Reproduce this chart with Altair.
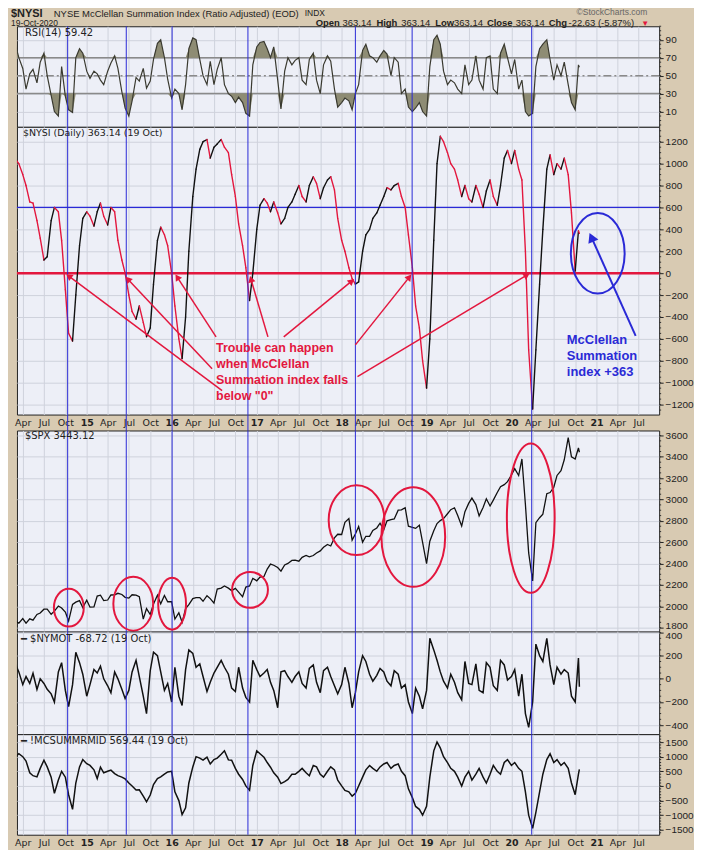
import altair as alt
import pandas as pd
import numpy as np

# ---------------- data (semi-monthly readings + last bar) ----------------
dates = list(pd.date_range("2014-03-01", "2020-10-15", freq="SMS").strftime("%Y-%m-%d")) + ["2020-10-19"]

rsi = [84, 70, 58, 35, 52, 57, 42, 65, 75, 50,
       28, 10, 5, 60, 27, 12, 9, 70, 80, 75,
       55, 47, 55, 52, 45, 40, 55, 64, 72, 58,
       32, 14, 5, 22, 48, 44, 58, 36, 44, 68,
       86, 90, 70, 46, 25, 35, 30, 12, 40, 80,
       92, 90, 68, 50, 40, 66, 40, 57, 70, 40,
       30, 27, 20, 26, 20, 8, 5, 62, 82, 87,
       88, 80, 70, 82, 45, 13, 55, 70, 62, 67,
       70, 45, 40, 68, 75, 45, 30, 62, 72, 66,
       35, 15, 20, 25, 22, 12, 30, 40, 78, 85,
       72, 70, 65, 72, 78, 74, 50, 70, 65, 30,
       35, 15, 10, 14, 20, 10, 5, 60, 90, 95,
       85, 55, 40, 45, 42, 35, 30, 62, 40, 45,
       72, 45, 35, 70, 72, 35, 30, 75, 85, 70,
       52, 68, 35, 45, 10, 5, 8, 60, 80, 85,
       90, 68, 45, 62, 50, 65, 40, 20, 12, 62,
       59.42]

nysi = [1040, 1000, 900, 800, 650, 640, 480, 320, 120, 150,
        480, 600, 560, 300, -150, -550, -620, -200, 250, 500,
        560, 520, 430, 560, 640, 520, 440, 600, 560, 300,
        120, 0, -200, -350, -420, -300, -450, -580, -500, -100,
        300, 420, 350, 250, 0, -300, -600, -780, -400, 200,
        700, 950, 1130, 1200, 1220, 1050, 1150, 1180, 1220, 1150,
        1100, 900, 700, 450, 250, 50, -250, 0, 400, 620,
        680, 640, 560, 650, 550, 450, 500, 600, 650, 720,
        800, 700, 650, 800, 880, 820, 680, 780, 850, 880,
        760, 500, 300, 200, 50, -50, -100, -80, 200, 350,
        400, 500, 550, 620, 700, 780, 760, 800, 820, 700,
        600, 350, 50, -300, -500, -800, -1050, -600, 300, 1000,
        1250, 1200, 1100, 1000, 950, 850, 700, 800, 680, 650,
        800, 720, 600, 750, 850, 700, 620, 800, 1050, 1120,
        1000, 1120, 950, 850, 200, -700, -1240, -700, -100, 400,
        950, 1080, 900, 1000, 950, 1050, 900, 550, 20, 386,
        363.14]

spx = [1859, 1841, 1885, 1842, 1883, 1870, 1924, 1937, 1973, 1973,
       1925, 1955, 2003, 1984, 1946, 1862, 2018, 2039, 2053, 1989,
       2058, 1992, 1995, 2096, 2104, 2053, 2059, 2106, 2108, 2122,
       2111, 2084, 2077, 2108, 2104, 2091, 1880, 1979, 1923, 2023,
       2104, 2023, 2102, 2043, 2044, 1880, 1939, 1850, 1978, 2015,
       2072, 2081, 2081, 2047, 2099, 2072, 2030, 2161, 2170, 2190,
       2170, 2147, 2168, 2133, 2090, 2180, 2191, 2262, 2239, 2274,
       2279, 2349, 2396, 2385, 2363, 2329, 2388, 2402, 2430, 2432,
       2423, 2459, 2476, 2464, 2476, 2500, 2519, 2553, 2579, 2565,
       2642, 2675, 2673, 2786, 2822, 2620, 2678, 2747, 2600, 2656,
       2655, 2711, 2734, 2779, 2718, 2801, 2813, 2818, 2901, 2904,
       2924, 2750, 2740, 2730, 2760, 2600, 2400, 2610, 2707, 2775,
       2803, 2822, 2867, 2905, 2923, 2850, 2752, 2886, 2964, 3014,
       2953, 2847, 2926, 3007, 2940, 2995, 3066, 3120, 3140, 3168,
       3230, 3289, 3225, 3380, 2954, 2500, 2237, 2783, 2830, 2863,
       3055, 3066, 3115, 3226, 3271, 3373, 3580, 3401, 3380, 3483,
       3443.12]

nymot = [125, 60, -50, 20, -40, 48, -92, 0, -40, -90,
         -130, -200, 60, 140, -100, -240, -50, 230, 140, 40,
         -150, -50, 80, 50, 110, 0, -60, -120, 60, 0,
         -90, -170, -100, 60, 160, 20, -150, -300, 70, 230,
         200, 60, -100, -40, -200, 100, -150, -230, 80, 250,
         220, 100, 130, 20, -110, -30, 50, 100, 160, 100,
         40, -80, -110, 100, -80, -160, -200, 160, 80, 20,
         50, 80, -30, -100, -250, 60, 70, 20, -30, 20,
         60, -40, -80, 90, 120, -30, -120, 70, 100, 20,
         -60, -130, -50, 100, -40, -250, -120, 60, 200, 150,
         40, -20, 30, 90, 60, -20, -60, 70, 40, -80,
         -50, -200, -300, -80, -150, -260, -100, 350, 250, 160,
         60, -20, -80, 40, -30, -120, -180, 150, -40, -50,
         130, -100, -120, 140, 100, -60, -100, 160, 120, -10,
         20, 80, -150, 40, -300, -420, -200, 300, 200, 150,
         350, 120, -50, 100, 40, 80, 50, -150, -200, 180,
         -68.72]

mcsum = [1000, 1100, 1000, 850, 450, 350, 310, 600, 880, 650,
         300, -250, 200, 500, 300, -300, -800, 100, 650, 900,
         760, 700, 550, 250, 640, 450, 500, 540, 420, 350,
         300, 240, 100, 0, -140, -130, -350, -540, -310, 50,
         250, 310, 400, 480, 500, -200, -500, -980, -750, 100,
         650, 1000, 950, 880, 980, 750, 900, 950, 1080, 1200,
         890, 880, 600, 400, 220, 0, -150, 700, 1200, 1100,
         980, 800, 640, 450, 300, 80, 150, 220, 400, 400,
         500, 600, 450, 350, 700, 650, 400, 300, 500, 650,
         550, 200, 0, -150, -200, -350, -250, 0, 300, 550,
         700, 600, 500, 650, 750, 800, 600, 700, 750, 500,
         350, -100, -400, -700, -800, -1000, -700, 300, 1200, 1500,
         1300, 1000, 800, 600, 500, 300, 0, 300, 500, 200,
         400, 600, 300, 100, 400, 700, 500, 400, 800, 900,
         700, 800, 600, 500, -200, -1000, -1450, -900, -200, 400,
         900, 1100, 800, 900, 700, 800, 600, 100, -300, 400,
         569.44]

assert all(len(a) == len(dates) for a in (rsi, nysi, spx, nymot, mcsum))

event_dates = ["2014-10-11", "2015-06-20", "2016-01-03", "2016-11-24",
               "2018-03-01", "2018-10-31", "2020-03-28"]

# red arrows (head date/value, tail date/value)
arrow_head_d = ["2014-10-16", "2015-06-27", "2016-01-25", "2016-12-07", "2018-02-13", "2018-10-19", "2020-03-07"]
arrow_head_v = [-27, -55, -36, -55, -73, -36, -18]
arrow_tail_d = ["2016-08-05", "2016-06-23", "2016-07-10", "2017-02-18", "2017-04-27", "2018-03-01", "2018-03-10"]
arrow_tail_v = [-1073, -873, -582, -582, -582, -655, -945]
arrow_angle = [307, 317, 327, 344, 50, 38, 59]

# SPX ellipses: centre date/value, width/height (px)
ell_d = ["2014-10-16", "2015-07-20", "2016-01-03", "2016-12-03", "2018-03-06", "2018-11-05", "2020-03-24"]
ell_v = [1987, 2024, 2024, 2154, 2807, 2649, 2826]
ell_w = [30, 40, 28, 36, 56, 64, 48]
ell_h = [38, 54, 52, 36, 70, 100, 150]

# axis tick values
rsi_ticks = [10, 30, 50, 70, 90]
nysi_ticks = list(range(-1200, 1201, 200))
spx_ticks = list(range(1800, 3601, 200))
nymot_ticks = [-400, -200, 0, 200, 400]
mcsum_ticks = [-1500, -1000, -500, 0, 500, 1000, 1500]

# ---------------- styling ----------------
FONT = "Liberation Sans"
LFONT = "DejaVu Sans"
TAN = "#D8CAB2"
PLOT_BG = "#EDEFF7"
GRID = "#CFD2DC"
RED = "#E3173E"
BLUE = "#2A2AD6"
W = 645

qdates = [alt.DateTime(year=y, month=m, date=1)
          for y in range(2014, 2022) for m in (1, 4, 7, 10)
          if (2014, 4) <= (y, m) <= (2021, 7)]
XS = alt.Scale(domain=[alt.DateTime(year=2014, month=3, date=7),
                       alt.DateTime(year=2021, month=9, date=27)], nice=False)
LABEL_EXPR = "month(datum.value) == 0 ? timeFormat(datum.value, '%y') : timeFormat(datum.value, '%b')"

XAX_LAB = alt.Axis(values=qdates, title=None, grid=True, gridColor=GRID, ticks=False,
                   domain=False, labelExpr=LABEL_EXPR, labelFont=LFONT, labelFontSize=9.5,
                   labelColor="#222", labelPadding=3, labelFlush=False, labelOverlap=False,
                   labelBound=False,
                   labelFontWeight={"condition": {"test": "month(datum.value) == 0", "value": "bold"},
                                    "value": "normal"})
XAX_NOLAB = alt.Axis(values=qdates, title=None, grid=True, gridColor=GRID, ticks=False,
                     domain=False, labels=False)


def y_axis(values, edge_value=None, edge_offset=0):
    kw = {}
    if edge_value is not None:
        kw["labelOffset"] = {"condition": {"test": f"datum.value == {edge_value}", "value": edge_offset},
                             "value": 0}
    return alt.Axis(orient="right", values=values, title=None, grid=True, gridColor=GRID,
                    tickSize=4, tickColor="#222", domain=False, labelFont=FONT, labelFontSize=10,
                    labelColor="#222", labelPadding=2, labelOverlap=False, labelFlush=False,
                    format="d", **kw)


def txt(text, x, y, size=10, weight="normal", color="#111", align="left", font=FONT,
        baseline="alphabetic"):
    return alt.Chart(pd.DataFrame({"t": [text]})).mark_text(
        align=align, baseline=baseline, fontSize=size, fontWeight=weight, color=color, font=font
    ).encode(text="t:N", x=alt.value(x), y=alt.value(y))


def ellipse_path(w, h):
    r = w / h
    return f"M {-r:.3f} 0 A {r:.3f} 1 0 1 1 {r:.3f} 0 A {r:.3f} 1 0 1 1 {-r:.3f} 0 Z"


ev_df = pd.DataFrame({"d": event_dates})
base = pd.DataFrame({"d": dates, "rsi": rsi, "nysi": nysi, "spx": spx, "nymot": nymot, "mcsum": mcsum})


class Panel:
    """Holds the shared x/y encodings of one panel so every layer carries identical axes."""

    def __init__(self, domain, ticks, minor_step, xaxis, edge_value=None, edge_offset=0):
        self.ys = alt.Scale(domain=domain, nice=False, zero=False)
        self.yax = y_axis(ticks, edge_value, edge_offset)
        self.xax = xaxis
        self.minor = [float(v) for v in np.arange(ticks[0] - minor_step * 40, ticks[-1] + minor_step * 40,
                                                  minor_step)
                      if domain[0] <= v <= domain[1]]

    def X(self, field="d"):
        return alt.X(f"{field}:T", scale=XS, axis=self.xax)

    def Y(self, field):
        return alt.Y(f"{field}:Q", scale=self.ys, axis=self.yax)

    def events(self):
        return alt.Chart(ev_df).mark_rule(color=BLUE, strokeWidth=1).encode(x=self.X())

    def hline(self, val, color, width, dash=None):
        kw = dict(color=color, strokeWidth=width)
        if dash:
            kw["strokeDash"] = dash
        return alt.Chart(pd.DataFrame({"y": [val]})).mark_rule(**kw).encode(y=self.Y("y"))

    def minor_ticks(self):
        return alt.Chart(pd.DataFrame({"y": self.minor})).mark_rule(color="#333", strokeWidth=1).encode(
            y=self.Y("y"), x=alt.value(W), x2=alt.value(W + 2))


# ---------------- RSI panel ----------------
P = Panel([-7, 105], rsi_ticks, 5, XAX_NOLAB)
rdf = base[["d", "rsi"]].copy()
rdf["hi"] = rdf.rsi.clip(lower=70)
rdf["lo"] = rdf.rsi.clip(upper=30)
rsi_hi = alt.Chart(rdf).mark_area(color="#8E8C74", clip=True).encode(
    x=P.X(), y=P.Y("hi"), y2=alt.datum(70))
rsi_lo = alt.Chart(rdf).mark_area(color="#8E8C74", clip=True).encode(
    x=P.X(), y=P.Y("lo"), y2=alt.datum(30))
rsi_line = alt.Chart(rdf).mark_line(color="#3A3A30", strokeWidth=1.2, clip=True).encode(
    x=P.X(), y=P.Y("rsi"))

HY1 = -9     # first header row baseline (relative to RSI plot top)
HY2 = -0.5   # second header row baseline
header = [
    txt("$NYSI", -6, HY1, size=11, weight="bold", color="#222"),
    txt("NYSE McClellan Summation Index (Ratio Adjusted) (EOD)", 37, HY1, size=9.5, color="#222"),
    txt("INDX", 289, HY1 - 1, size=8.5, color="#222"),
    txt("©StockCharts.com", 633, HY1 - 2, size=8.5, color="#666", align="right"),
    txt("19-Oct-2020", -6, HY2, size=8.5, color="#222"),
    txt("Open", 300, HY2, size=9.5, weight="bold", color="#222"),
    txt("363.14", 327, HY2, size=9.5, color="#222"),
    txt("High", 361, HY2, size=9.5, weight="bold", color="#222"),
    txt("363.14", 386, HY2, size=9.5, color="#222"),
    txt("Low", 420, HY2, size=9.5, weight="bold", color="#222"),
    txt("363.14", 439, HY2, size=9.5, color="#222"),
    txt("Close", 472, HY2, size=9.5, weight="bold", color="#222"),
    txt("363.14", 501, HY2, size=9.5, color="#222"),
    txt("Chg", 534, HY2, size=9.5, weight="bold", color="#222"),
    txt("-22.63 (-5.87%)", 554, HY2, size=9.5, color="#222"),
    txt("▼", 627, HY2, size=8, color=RED),
]

rsi_panel = alt.layer(
    P.hline(70, "#8A8A8A", 1.5), P.hline(30, "#8A8A8A", 1.5),
    P.hline(50, "#8A8A8A", 1.5, dash=[8, 3, 2, 3]),
    rsi_hi, rsi_lo, rsi_line,
    P.events(), P.minor_ticks(),
    txt("RSI(14) 59.42", 8, 7, size=10, font=LFONT, baseline="middle", color="#222"),
    *header,
).properties(width=W, height=101)

# ---------------- NYSI panel ----------------
P = Panel([-1291, 1336], nysi_ticks, 50, XAX_LAB)
seg = pd.DataFrame({"d": dates[:-1], "d2": dates[1:], "v": nysi[:-1], "v2": nysi[1:]})
seg["dir"] = np.where(seg.v2 >= seg.v, "up", "down")
nysi_segs = alt.Chart(seg).mark_rule(strokeWidth=1.4, strokeCap="round", clip=True).encode(
    x=P.X(), x2="d2:T", y=P.Y("v"), y2="v2:Q",
    color=alt.Color("dir:N", scale=alt.Scale(domain=["up", "down"], range=["#111111", RED]), legend=None))

arr = pd.DataFrame({"d": arrow_head_d, "v": arrow_head_v, "d2": arrow_tail_d, "v2": arrow_tail_v,
                    "a": arrow_angle})
arrows = alt.Chart(arr).mark_rule(color=RED, strokeWidth=1.5).encode(
    x=P.X(), x2="d2:T", y=P.Y("v"), y2="v2:Q")
heads = alt.Chart(arr).mark_point(shape="triangle-up", filled=True, color=RED, size=55, opacity=1).encode(
    x=P.X(), y=P.Y("v"), angle=alt.Angle("a:Q", scale=None))

red_text = alt.Chart(pd.DataFrame({"d": ["2016-07-10"], "v": [-627],
                                   "t": ["Trouble can happen\nwhen McClellan\nSummation index falls\nbelow \"0\""]})
                     ).mark_text(align="left", baseline="top", color=RED, fontSize=12.5, fontWeight="bold",
                                 font=FONT, lineBreak="\n", lineHeight=16).encode(
    x=P.X(), y=P.Y("v"), text="t:N")

blue_ell = alt.Chart(pd.DataFrame({"d": ["2021-01-06"], "v": [182], "p": [ellipse_path(54, 81)],
                                   "s": [81 * 81]})).mark_point(color=BLUE, strokeWidth=2, filled=False,
                                                                 opacity=1).encode(
    x=P.X(), y=P.Y("v"), shape=alt.Shape("p:N", scale=None), size=alt.Size("s:Q", scale=None))
blue_arr_df = pd.DataFrame({"d": ["2020-12-10"], "v": [327], "d2": ["2021-06-18"], "v2": [-573], "a": [336]})
blue_arrow = alt.Chart(blue_arr_df).mark_rule(color=BLUE, strokeWidth=2).encode(
    x=P.X(), x2="d2:T", y=P.Y("v"), y2="v2:Q")
blue_head = alt.Chart(blue_arr_df).mark_point(shape="triangle-up", filled=True, color=BLUE, size=120,
                                              opacity=1).encode(
    x=P.X(), y=P.Y("v"), angle=alt.Angle("a:Q", scale=None))
blue_text = alt.Chart(pd.DataFrame({"d": ["2020-08-26"], "v": [-555],
                                    "t": ["McClellan\nSummation\nindex +363"]})).mark_text(
    align="left", baseline="top", color=BLUE, fontSize=13, fontWeight="bold", font=FONT,
    lineBreak="\n", lineHeight=16).encode(
    x=P.X(), y=P.Y("v"), text="t:N")

nysi_panel = alt.layer(
    P.hline(600, BLUE, 1.3),
    P.hline(0, RED, 2.5),
    nysi_segs,
    P.events(), P.minor_ticks(),
    arrows, heads, red_text,
    blue_ell, blue_arrow, blue_head, blue_text,
    txt("$NYSI (Daily) 363.14 (19 Oct)", 6, 6, size=9.5, font=LFONT, baseline="middle", color="#222"),
).properties(width=W, height=289)

# ---------------- strip between panels ----------------
strip = alt.Chart(ev_df).mark_rule(color=BLUE, strokeWidth=1).encode(
    x=alt.X("d:T", scale=XS, axis=None)).properties(
    width=W, height=16, view=alt.ViewBackground(fill="transparent", stroke="transparent"))

# ---------------- SPX panel ----------------
P = Panel([1763, 3647], spx_ticks, 50, XAX_NOLAB, edge_value=1800, edge_offset=-2)
edf = pd.DataFrame({"d": ell_d, "v": ell_v,
                    "p": [ellipse_path(w, h) for w, h in zip(ell_w, ell_h)],
                    "s": [h * h for h in ell_h]})
spx_panel = alt.layer(
    alt.Chart(base).mark_line(color="#111", strokeWidth=1.3, clip=True).encode(x=P.X(), y=P.Y("spx")),
    P.events(), P.minor_ticks(),
    alt.Chart(edf).mark_point(color=RED, strokeWidth=2, filled=False, opacity=1).encode(
        x=P.X(), y=P.Y("v"), shape=alt.Shape("p:N", scale=None), size=alt.Size("s:Q", scale=None)),
    txt("$SPX 3443.12", 8, 6, size=10, font=LFONT, baseline="middle", color="#222"),
).properties(width=W, height=202)

# ---------------- NYMOT panel ----------------
P = Panel([-478, 408], nymot_ticks, 50, XAX_NOLAB, edge_value=400, edge_offset=3)
nymot_panel = alt.layer(
    alt.Chart(base).mark_line(color="#111", strokeWidth=1.5, clip=True).encode(x=P.X(), y=P.Y("nymot")),
    P.events(), P.minor_ticks(),
    txt("━ $NYMOT -68.72 (19 Oct)", 4, 7, size=10, font=LFONT, baseline="middle", color="#222"),
).properties(width=W, height=103)

# ---------------- MCSUMMRMID panel ----------------
P = Panel([-1667, 1769], mcsum_ticks, 100, XAX_LAB)
mcsum_panel = alt.layer(
    alt.Chart(base).mark_line(color="#111", strokeWidth=1.5, clip=True).encode(x=P.X(), y=P.Y("mcsum")),
    P.events(), P.minor_ticks(),
    txt("━ !MCSUMMRMID 569.44 (19 Oct)", 4, 7, size=10, font=LFONT, baseline="middle", color="#222"),
).properties(width=W, height=101)

chart = alt.vconcat(rsi_panel, nysi_panel, strip, spx_panel, nymot_panel, mcsum_panel,
                    spacing=0, bounds="flush").configure(
    background=TAN, padding={"left": 2, "top": -2.5, "right": 0, "bottom": 0}, font=FONT
).configure_view(fill=PLOT_BG, stroke="#222", strokeWidth=1)

chart.save("out.html", embed_options={"renderer": "svg", "actions": False})
